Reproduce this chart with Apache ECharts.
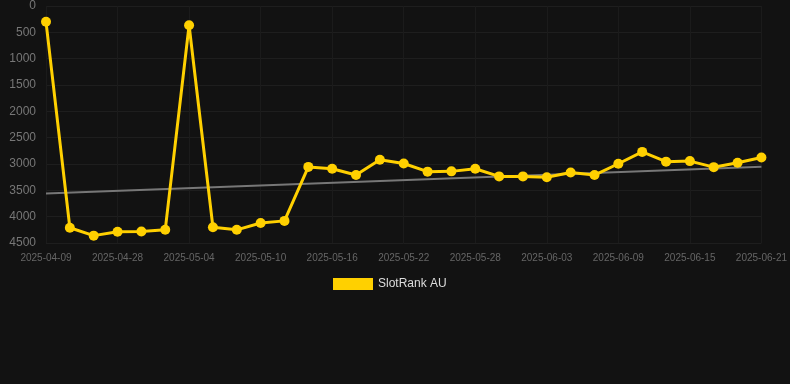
<!DOCTYPE html>
<html>
<head>
<meta charset="utf-8">
<script src="https://cdn.jsdelivr.net/npm/echarts@6/dist/echarts.min.js"></script>
<style>
  html, body { margin: 0; padding: 0; background: #121212; }
  #chart { width: 790px; height: 384px; }
</style>
</head>
<body>
<div id="chart"></div>
<script>
// categories (rank dates)
const dates = [
  '2025-04-09', '2025-04-24', '2025-04-26', '2025-04-28', '2025-04-30', '2025-05-02',
  '2025-05-04', '2025-05-06', '2025-05-08', '2025-05-10', '2025-05-12', '2025-05-14',
  '2025-05-16', '2025-05-18', '2025-05-20', '2025-05-22', '2025-05-24', '2025-05-26',
  '2025-05-28', '2025-05-30', '2025-06-01', '2025-06-03', '2025-06-05', '2025-06-07',
  '2025-06-09', '2025-06-11', '2025-06-13', '2025-06-15', '2025-06-17', '2025-06-19',
  '2025-06-21'
];

// SlotRank AU position
const rankAU = [
  300, 4210, 4360, 4285, 4280, 4250,
  365, 4200, 4250, 4120, 4080, 3055,
  3090, 3210, 2920, 2990, 3145, 3140,
  3090, 3235, 3235, 3250, 3160, 3210,
  2995, 2770, 2955, 2945, 3060, 2975,
  2875
];

// trend line end values (first and last date)
const trendEnds = [3560, 3050];

const yTicks = [0, 500, 1000, 1500, 2000, 2500, 3000, 3500, 4000, 4500];

const chart = echarts.init(document.getElementById('chart'));

chart.setOption({
  backgroundColor: '#121212',
  animation: false,
  grid: { left: 46, right: 28, top: 6, bottom: 141 },
  legend: {
    top: 273,
    left: 328,
    itemWidth: 40,
    itemHeight: 12,
    itemGap: 10,
    data: [{ name: 'SlotRank AU', icon: 'rect' }],
    textStyle: { color: '#dddddd', fontSize: 12, fontFamily: 'Liberation Sans, Arial, sans-serif' },
  },
  xAxis: {
    type: 'category',
    data: dates,
    boundaryGap: false,
    axisLine: { show: false },
    axisTick: { show: true, interval: 2, length: 20, lineStyle: { color: '#1b1b1b' } },
    axisLabel: {
      interval: 2,
      color: '#666666',
      fontSize: 10,
      margin: 10,
      fontFamily: 'Liberation Sans, Arial, sans-serif',
    },
    splitLine: { show: true, interval: 2, lineStyle: { color: '#1b1b1b', width: 1 } },
  },
  yAxis: {
    type: 'value',
    inverse: true,
    min: yTicks[0],
    max: yTicks[yTicks.length - 1],
    interval: 500,
    axisLine: { show: false },
    axisTick: { show: false },
    axisLabel: {
      color: '#777777',
      fontSize: 12,
      margin: 10,
      formatter: (v) => String(v),
      fontFamily: 'Liberation Sans, Arial, sans-serif',
    },
    splitLine: { lineStyle: { color: '#1e1e1e', width: 1 } },
  },
  series: [
    {
      name: 'SlotRank AU',
      type: 'line',
      data: rankAU,
      symbol: 'circle',
      symbolSize: 10,
      lineStyle: { color: '#ffd000', width: 3 },
      itemStyle: { color: '#ffd000' },
      z: 3,
    },
    {
      name: 'Trend',
      type: 'line',
      data: [[dates[0], trendEnds[0]], [dates[dates.length - 1], trendEnds[1]]],
      symbol: 'none',
      lineStyle: { color: '#777777', width: 2 },
      itemStyle: { color: '#777777' },
      z: 2,
      silent: true,
    },
  ],
});
</script>
</body>
</html>
